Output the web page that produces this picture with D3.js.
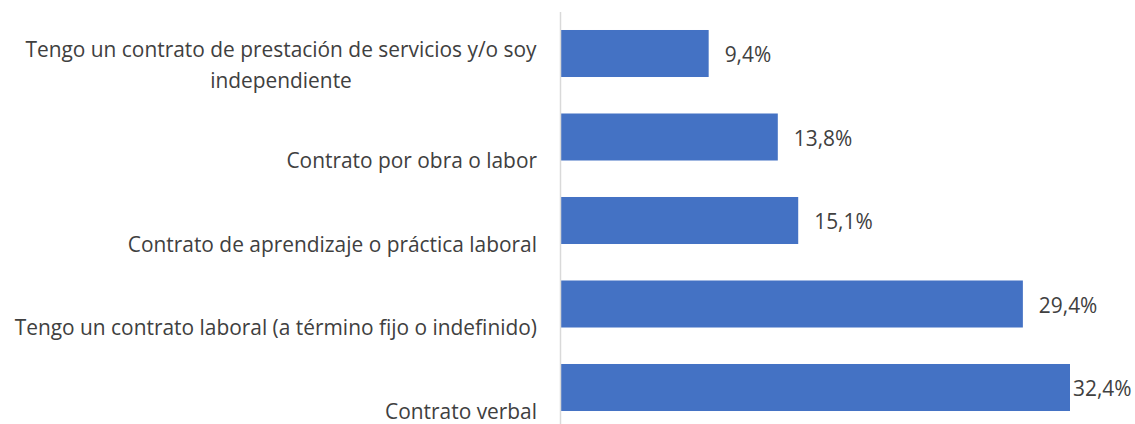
<!DOCTYPE html>
<html lang="es">

<head>
  <meta charset="UTF-8" />
  <title>Tipo de contrato</title>
  <script src="https://d3js.org/d3.v7.min.js"></script>
  <style>
    body { margin: 0; background: #fff; }
    svg text { font-family: "Open Sans", "Noto Sans", sans-serif; fill: #404040; font-size: 20.9px; }
  </style>
</head>

<body>
  <svg id="chart" width="1135" height="424"></svg>

  <script>
    // chart data
    const categories = [
      "Tengo un contrato de prestación de servicios y/o soy independiente",
      "Contrato por obra o labor",
      "Contrato de aprendizaje o práctica laboral",
      "Tengo un contrato laboral (a término fijo o indefinido)",
      "Contrato verbal"
    ];
    const categoryLines = [
      ["Tengo un contrato de prestación de servicios y/o soy", "independiente"],
      ["Contrato por obra o labor"],
      ["Contrato de aprendizaje o práctica laboral"],
      ["Tengo un contrato laboral (a término fijo o indefinido)"],
      ["Contrato verbal"]
    ];
    const values = [9.4, 13.8, 15.1, 29.4, 32.4];

    const svg = d3.select("#chart");

    const x = d3.scaleLinear().domain([0, 32.4]).range([561, 1070]);
    const y = d3.scaleBand()
      .domain(categories)
      .range([11.75, 429.25])
      .paddingInner(0.437)
      .paddingOuter(0.2185);

    // bars
    svg.selectAll(".bar")
      .data(values)
      .enter()
      .append("rect")
      .attr("class", "bar")
      .attr("x", x(0))
      .attr("y", (d, i) => y(categories[i]))
      .attr("width", d => x(d) - x(0))
      .attr("height", y.bandwidth())
      .attr("fill", "#4472c4");

    // vertical axis line
    svg.append("line")
      .attr("x1", 560.5).attr("x2", 560.5)
      .attr("y1", 12).attr("y2", 424)
      .attr("stroke", "#d9d9d9")
      .attr("stroke-width", 1.5);

    // value labels
    const fmt = d => d.toFixed(1).replace(".", ",") + "%";
    svg.selectAll(".value")
      .data(values)
      .enter()
      .append("text")
      .attr("class", "value")
      .attr("x", (d, i) => i === values.length - 1 ? x(d) + 3 : x(d) + 16)
      .attr("y", (d, i) => y(categories[i]) + y.bandwidth() / 2 + 8.5)
      .text(fmt);

    // category labels (Excel places them a bit below the bars)
    categoryLines.forEach((lines, i) => {
      const mid = y(categories[i]) + y.bandwidth() / 2;
      if (lines.length > 1) {
        const t = svg.append("text")
          .attr("text-anchor", "middle");
        lines.forEach((l, k) => {
          t.append("tspan")
            .attr("x", 281)
            .attr("y", mid + 3 + k * 31)
            .text(l);
        });
      } else {
        svg.append("text")
          .attr("text-anchor", "end")
          .attr("x", 537)
          .attr("y", mid + 31)
          .text(lines[0]);
      }
    });
  </script>
</body>

</html>
